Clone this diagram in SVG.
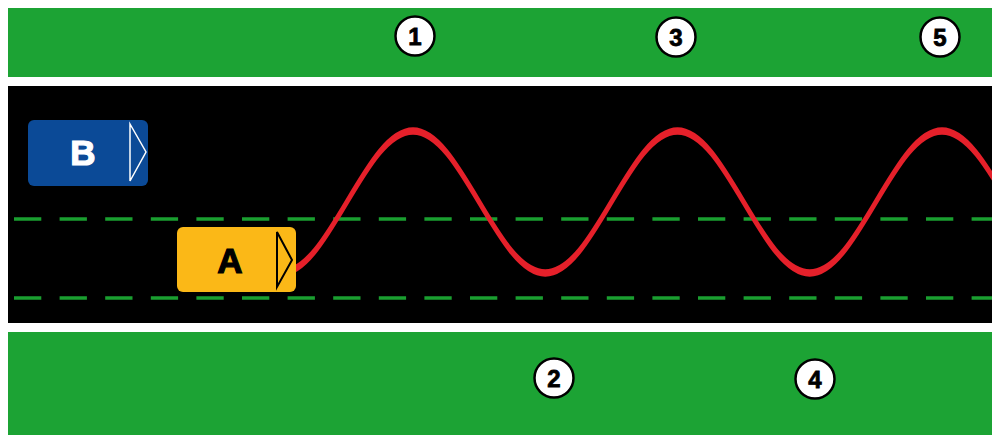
<svg xmlns="http://www.w3.org/2000/svg" width="992" height="435" viewBox="0 0 992 435">
  <style>
    .grass { fill: #1ca334; }
    .lane { stroke: #1a9f30; stroke-width: 3.5; stroke-dasharray: 27.3 18.3; fill: none; }
    .marker circle { fill: #ffffff; stroke: #000000; stroke-width: 2.5; }
    .marker text { font-family: "Liberation Sans", Arial, sans-serif; font-weight: bold; font-size: 24px; text-anchor: middle; fill: #000000; stroke: #000000; stroke-width: 0.8; }
    .car text { font-family: "Liberation Sans", Arial, sans-serif; font-weight: bold; font-size: 35px; text-anchor: middle; stroke-width: 1.2; }
  </style>
  <rect x="0" y="0" width="992" height="435" fill="#ffffff"/>
  <g id="grass-top"><rect class="grass" x="8" y="8" width="984" height="69"/></g>
  <g id="road"><rect x="8" y="86" width="984" height="237" fill="#000000"/></g>
  <g id="grass-bottom"><rect class="grass" x="8" y="332" width="984" height="103"/></g>
  <g id="lanes">
    <line class="lane" x1="14" y1="219" x2="992" y2="219"/>
    <line class="lane" x1="14" y1="298" x2="992" y2="298"/>
  </g>
  <g id="connectors">
    <path transform="scale(0.5 1)" fill="none" stroke="#e5202a" stroke-width="7.5" d="M 561.5 273 C 609.36 273, 650.62 238.37, 693.75 202 C 736.9 165.63, 778.14 131, 826 131 C 873.86 131, 915.12 165.63, 958.25 202 C 1001.4 238.37, 1042.64 273, 1090.5 273 C 1138.36 273, 1179.62 238.37, 1222.75 202 C 1265.9 165.63, 1307.14 131, 1355 131 C 1402.86 131, 1444.12 165.63, 1487.25 202 C 1530.4 238.37, 1571.64 273, 1619.5 273 C 1667.36 273, 1708.62 238.37, 1751.75 202 C 1794.9 165.63, 1836.14 131, 1884 131 C 1931.86 131, 1973.12 165.63, 2016.25 202"/>
  </g>
  <g id="car-b" class="car">
    <rect x="28" y="120" width="120" height="66" rx="6" fill="#0b4a97"/>
    <polygon points="130,124 146,152 130,181" fill="none" stroke="#ffffff" stroke-width="1.5"/>
    <text x="83" y="165" fill="#ffffff" stroke="#ffffff">B</text>
  </g>
  <g id="car-a" class="car">
    <rect x="177" y="227" width="119" height="65" rx="6" fill="#fbb817"/>
    <polygon points="277,232 292,260 277,287" fill="none" stroke="#000000" stroke-width="2"/>
    <text x="230" y="273" fill="#000000" stroke="#000000">A</text>
  </g>
  <g id="marker-1" class="marker"><circle cx="415" cy="36" r="19.5"/><text x="415" y="44.5">1</text></g>
  <g id="marker-2" class="marker"><circle cx="554" cy="378" r="19.5"/><text x="554" y="386.5">2</text></g>
  <g id="marker-3" class="marker"><circle cx="676" cy="37" r="19.5"/><text x="676" y="45.5">3</text></g>
  <g id="marker-4" class="marker"><circle cx="815" cy="379" r="19.5"/><text x="815" y="387.5">4</text></g>
  <g id="marker-5" class="marker"><circle cx="940" cy="37" r="19.5"/><text x="940" y="45.5">5</text></g>
</svg>
